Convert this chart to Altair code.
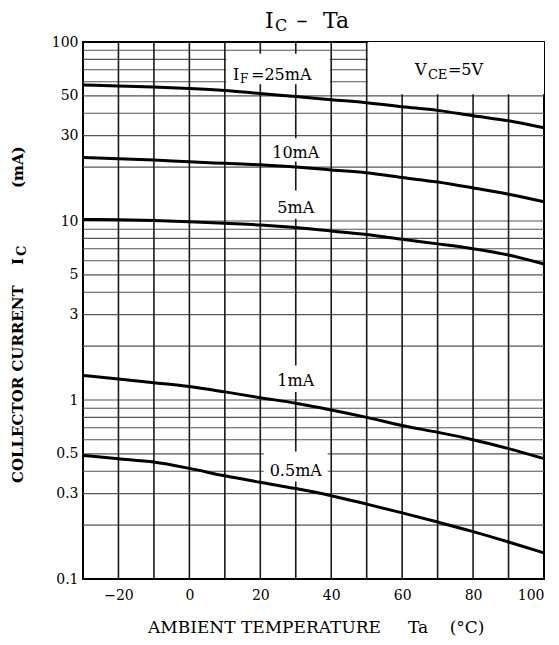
import altair as alt
import pandas as pd

# ---------------- data ----------------
ta = [-30, -20, -10, 0, 10, 20, 30, 40, 50, 60, 70, 80, 90, 100]
ic_if25 = [57.5, 56.8, 56.0, 55.0, 53.6, 51.5, 49.6, 47.6, 45.8, 43.5, 41.5, 38.7, 36.3, 33.2]
ic_if10 = [22.6, 22.3, 21.9, 21.4, 21.0, 20.6, 20.0, 19.3, 18.6, 17.5, 16.5, 15.3, 14.1, 12.8]
ic_if5 = [10.2, 10.15, 10.05, 9.9, 9.7, 9.5, 9.2, 8.8, 8.4, 7.9, 7.45, 7.0, 6.45, 5.75]
ic_if1 = [1.37, 1.31, 1.25, 1.19, 1.11, 1.03, 0.96, 0.88, 0.80, 0.72, 0.66, 0.60, 0.535, 0.47]
ic_if05 = [0.49, 0.47, 0.45, 0.415, 0.377, 0.347, 0.320, 0.292, 0.262, 0.234, 0.208, 0.184, 0.161, 0.140]
series_names = ["25mA", "10mA", "5mA", "1mA", "0.5mA"]

x_ticks = [-20, 0, 20, 40, 60, 80, 100]
y_ticks = [0.1, 0.3, 0.5, 1, 3, 5, 10, 30, 50, 100]
x_grid = [-20, -10, 0, 10, 20, 30, 40, 50, 60, 70, 80, 90]
y_grid = [0.2, 0.3, 0.4, 0.5, 0.6, 0.7, 0.8, 0.9, 1,
          2, 3, 4, 5, 6, 7, 8, 9, 10,
          20, 30, 40, 50, 60, 70, 80, 90]

# label boxes (data coordinates) that hide the grid behind the labels
box_x1 = [10.4, 50.4, 23, 23, 23, 21]
box_x2 = [39.6, 100, 37, 37, 37, 39]
box_y1 = [58, 51, 21.5, 10.3, 1.11, 0.35]
box_y2 = [86, 100, 29, 14.8, 1.56, 0.515]

# curve labels (data coordinates)
lab_text = ["10mA", "5mA", "1mA", "0.5mA"]
lab_x = [30, 30, 30, 30]
lab_y = [22.5, 11.08, 1.197, 0.376]

FONT = "DejaVu Serif"
W, H = 461, 537

xs = alt.Scale(domain=[-30, 100], nice=False, zero=False)
ys = alt.Scale(type="log", domain=[0.1, 100], nice=False)
xaxis = alt.Axis(values=x_ticks, title=None, grid=False, ticks=False, domain=False,
                 labelFont=FONT, labelFontSize=14, labelColor="black", labelPadding=9, format="d")
yaxis = alt.Axis(values=y_ticks, title=None, grid=False, ticks=False, domain=False,
                 labelFont=FONT, labelFontSize=14, labelColor="black", labelPadding=5, format="~g")


def X(field):
    return alt.X(field, scale=xs, axis=xaxis)


def Y(field):
    return alt.Y(field, scale=ys, axis=yaxis)


rows = []
for name, vals in zip(series_names, [ic_if25, ic_if10, ic_if5, ic_if1, ic_if05]):
    for t, v in zip(ta, vals):
        rows.append({"series": name, "ta": t, "ic": v})
curves_df = pd.DataFrame(rows)

hgrid = alt.Chart(pd.DataFrame({"v": y_grid})).mark_rule(
    color="#555555", strokeWidth=1.1
).encode(y=Y("v:Q"))

vgrid = alt.Chart(pd.DataFrame({"v": x_grid})).mark_rule(
    color="#1a1a1a", strokeWidth=1.6
).encode(x=X("v:Q"))

boxes = alt.Chart(pd.DataFrame({"x1": box_x1, "x2": box_x2, "y1": box_y1, "y2": box_y2})).mark_rect(
    color="white"
).encode(x=X("x1:Q"), x2="x2:Q", y=Y("y1:Q"), y2="y2:Q")

curves = alt.Chart(curves_df).mark_line(
    color="black", strokeWidth=3, interpolate="monotone"
).encode(x=X("ta:Q"), y=Y("ic:Q"), detail="series:N")

labels = alt.Chart(pd.DataFrame({"t": lab_text, "x": lab_x, "y": lab_y})).mark_text(
    font=FONT, fontSize=16, color="black", align="center", baseline="alphabetic"
).encode(x=X("x:Q"), y=Y("y:Q"), text="t:N")


def dtext(s, x, y, size, dx=0, dy=0):
    return alt.Chart(pd.DataFrame({"x": [x], "y": [y]})).mark_text(
        text=s, font=FONT, fontSize=size, color="black", align="left",
        baseline="alphabetic", dx=dx, dy=dy
    ).encode(x=X("x:Q"), y=Y("y:Q"))


def ptext(s, x, y, size, angle=0, bold=False, align="left"):
    return alt.Chart(pd.DataFrame({"a": [0]})).mark_text(
        text=s, font=FONT, fontSize=size, color="black", align=align,
        baseline="alphabetic", angle=angle, fontWeight="bold" if bold else "normal"
    ).encode(x=alt.value(x), y=alt.value(y))


if_lab = [dtext("I", 12.3, 61.4, 16), dtext("F", 12.3, 61.4, 12, dx=7, dy=3),
          dtext("=25mA", 12.3, 61.4, 16, dx=18)]
vce_lab = [dtext("V", 63.6, 65.5, 16), dtext("CE", 63.6, 65.5, 13, dx=13, dy=4),
           dtext("=5V", 63.6, 65.5, 16, dx=33)]

title = [ptext("I", 182, -14, 22), ptext("C", 192, -11, 16),
         ptext("\u2013", 219, -14, 22, align="center"), ptext("Ta", 240, -14, 22)]

ytitle = [ptext("COLLECTOR CURRENT", -60, 441, 15, angle=270, bold=True),
          ptext("I", -60, 223, 15, angle=270, bold=True),
          ptext("C", -57, 214, 13, angle=270, bold=True),
          ptext("(mA)", -60, 146, 15, angle=270, bold=True)]

xtitle = [ptext("AMBIENT TEMPERATURE\u00a0\u00a0\u00a0\u00a0\u00a0Ta\u00a0\u00a0\u00a0\u00a0(\u00b0C)", 65, 591, 17)]

chart = alt.layer(
    hgrid, vgrid, boxes, curves, labels, *if_lab, *vce_lab, *title, *ytitle, *xtitle
).properties(
    width=W, height=H,
    padding={"left": 75, "top": 34, "right": 7, "bottom": 58},
    autosize=alt.AutoSizeParams(type="none"),
    background="white",
).configure_view(stroke="black", strokeWidth=2)

chart.save("out.html", embed_options={"renderer": "svg", "actions": False})
